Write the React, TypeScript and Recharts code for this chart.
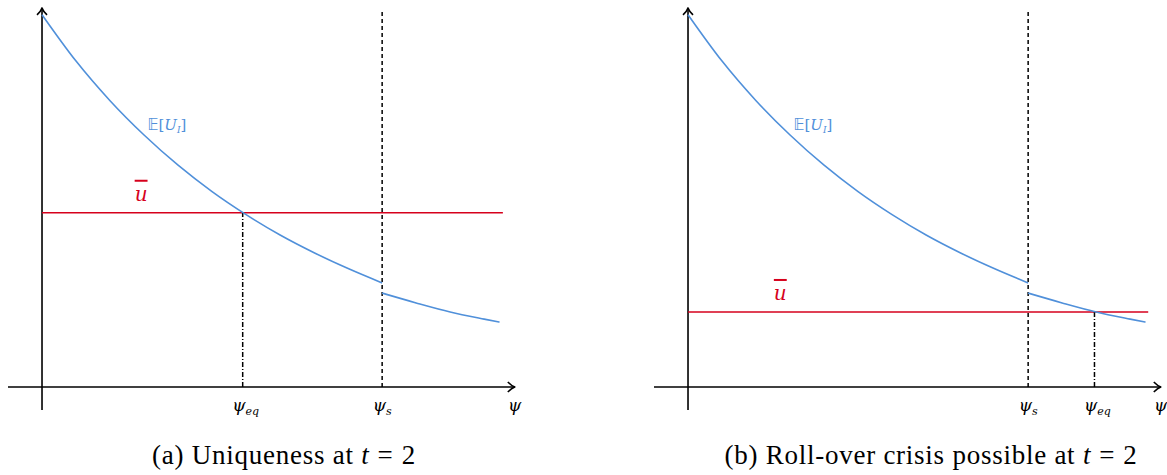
import React from "react";
import { ComposedChart, Line, XAxis, YAxis, ReferenceLine, ReferenceDot } from "recharts";

// ψ grid and expected utility E[U_I] (left of ψ_s and right of ψ_s)
const psiValues = [0, 1, 2, 3, 4, 5, 6, 7, 8, 9, 10, 11, 12, 13, 13.45];
const utilityBefore = [98.7, 86.4, 75.9, 66.8, 58.8, 51.8, 45.7, 40.3, 35.6, 31.4, 27.6, null, null, null, null];
const utilityAfter = [null, null, null, null, null, null, null, null, null, null, 24.9, 22.3, 19.9, 18.0, 17.2];

const psiS = 10;
const panelA = { ubar: 46.2, psiEq: 5.9, ubarEnd: 13.55, caption: "(a) Uniqueness at", ubarLabelPsi: 2.9, center: 284 };
const panelB = { ubar: 19.9, psiEq: 11.95, ubarEnd: 13.53, caption: "(b) Roll-over crisis possible at", ubarLabelPsi: 2.7, center: 931 };

const xDomain: [number, number] = [-1, 14.2];
const yDomain: [number, number] = [-9, 101];
const xAxisEnd = 13.9;
const yAxisEnd = 100.5;
const yAxisStart = -6.1;

const tableData = psiValues.map((p, i) => ({ psi: p, before: utilityBefore[i], after: utilityAfter[i] }));

const BLUE = "#5090da";
const RED = "#d6001c";
const SERIF = "'DejaVu Serif', 'Liberation Serif', serif";

const arrowShape = (dir: "right" | "up") => (p: any) => {
  const { x1, y1, x2, y2 } = p;
  const ex = dir === "right" ? Math.max(x1, x2) : x1;
  const ey = dir === "up" ? Math.min(y1, y2) : y1;
  const head =
    dir === "right"
      ? `M${ex - 7},${ey - 5} Q${ex - 3},${ey - 1} ${ex},${ey} Q${ex - 3},${ey + 1} ${ex - 7},${ey + 5}`
      : `M${ex - 5},${ey + 7} Q${ex - 1},${ey + 3} ${ex},${ey} Q${ex + 1},${ey + 3} ${ex + 5},${ey + 7}`;
  return (
    <g>
      <line x1={x1} y1={y1} x2={x2} y2={y2} stroke="#000" strokeWidth={1.6} />
      <path d={head} fill="none" stroke="#000" strokeWidth={1.6} strokeLinejoin="round" />
    </g>
  );
};

const textAt = (dx: number, dy: number, node: React.ReactNode) => (props: any) => {
  const vb = props.viewBox || {};
  const x = (vb.x ?? 0) + (vb.width ?? 0) / 2 + dx;
  const y = (vb.y ?? 0) + (vb.height ?? 0) / 2 + dy;
  return <g transform={`translate(${x},${y})`}>{node}</g>;
};

const PsiLabel = ({ sub }: { sub?: string }) => (
  <text x={0} y={0} textAnchor="middle" fontFamily={SERIF} fontSize={17} fontStyle="italic" fill="#000">
    ψ
    {sub ? (
      <tspan fontSize={11} dy={4}>
        {sub}
      </tspan>
    ) : null}
  </text>
);

const EuLabel = () => (
  <text x={0} y={0} fontFamily={SERIF} fontSize={15} fill={BLUE}>
    <tspan fontFamily="'DejaVu Sans', sans-serif">𝔼</tspan>
    <tspan>[</tspan>
    <tspan fontStyle="italic">U</tspan>
    <tspan fontStyle="italic" fontSize={9} dy={3}>I</tspan>
    <tspan dy={-3}>]</tspan>
  </text>
);

const UbarLabel = () => (
  <text x={0} y={0} fontFamily={SERIF} fontSize={20} fontStyle="italic" fill={RED} style={{ textDecoration: "overline" }}>
    u
  </text>
);

function Panel({ cfg, left }: { cfg: typeof panelA; left: number }) {
  const dashS = "4 3";
  const dashEq = "5 2 1 2";
  return (
    <div style={{ position: "absolute", left, top: 6 }}>
      <ComposedChart width={517} height={415} data={tableData} margin={{ top: 0, right: 0, bottom: 0, left: 0 }}>
        <XAxis dataKey="psi" type="number" domain={xDomain} hide allowDataOverflow />
        <YAxis type="number" domain={yDomain} hide allowDataOverflow />
        <ReferenceLine segment={[{ x: xDomain[0], y: 0 }, { x: xAxisEnd, y: 0 }]} shape={arrowShape("right")} ifOverflow="visible" />
        <ReferenceLine segment={[{ x: 0, y: yAxisStart }, { x: 0, y: yAxisEnd }]} shape={arrowShape("up")} ifOverflow="visible" />
        <ReferenceLine segment={[{ x: 0, y: cfg.ubar }, { x: cfg.ubarEnd, y: cfg.ubar }]} stroke={RED} strokeWidth={1.6} ifOverflow="visible" />
        <ReferenceLine segment={[{ x: psiS, y: 0 }, { x: psiS, y: 100 }]} stroke="#000" strokeWidth={1.5} strokeDasharray={dashS} ifOverflow="visible" />
        <ReferenceLine segment={[{ x: cfg.psiEq, y: 0 }, { x: cfg.psiEq, y: cfg.ubar }]} stroke="#000" strokeWidth={1.5} strokeDasharray={dashEq} ifOverflow="visible" />
        <Line dataKey="before" stroke={BLUE} strokeWidth={1.6} dot={false} isAnimationActive={false} type="monotone" connectNulls={false} />
        <Line dataKey="after" stroke={BLUE} strokeWidth={1.6} dot={false} isAnimationActive={false} type="monotone" connectNulls={false} />
        <ReferenceDot x={psiS} y={0} r={0} fill="none" stroke="none" ifOverflow="visible" label={{ content: textAt(0, 24, <PsiLabel sub="s" />) }} />
        <ReferenceDot x={cfg.psiEq} y={0} r={0} fill="none" stroke="none" ifOverflow="visible" label={{ content: textAt(3, 24, <PsiLabel sub="eq" />) }} />
        <ReferenceDot x={xAxisEnd} y={0} r={0} fill="none" stroke="none" ifOverflow="visible" label={{ content: textAt(0, 24, <PsiLabel />) }} />
        <ReferenceDot x={3.1} y={0} r={0} fill="none" stroke="none" ifOverflow="visible" label={{ content: textAt(0, -257, <EuLabel />) }} />
        <ReferenceDot x={cfg.ubarLabelPsi} y={cfg.ubar} r={0} fill="none" stroke="none" ifOverflow="visible" label={{ content: textAt(-6, -12, <UbarLabel />) }} />
      </ComposedChart>
    </div>
  );
}

function Caption({ text, center }: { text: string; center: number }) {
  return (
    <div
      style={{
        position: "absolute",
        top: 440,
        left: center - 250,
        width: 500,
        textAlign: "center",
        fontFamily: "'Liberation Serif', serif",
        fontSize: 27,
        letterSpacing: 0.75,
        whiteSpace: "nowrap",
        color: "#000",
      }}
    >
      {text} <i>t</i>
      <span style={{ margin: "0 0.3em" }}>=</span>2
    </div>
  );
}

export default function App() {
  return (
    <div style={{ position: "absolute", left: 0, top: 0, width: 1167, height: 475, background: "#fff", overflow: "hidden" }}>
      <Panel cfg={panelA} left={8} />
      <Panel cfg={panelB} left={654} />
      <Caption text={panelA.caption} center={panelA.center} />
      <Caption text={panelB.caption} center={panelB.center} />
    </div>
  );
}
